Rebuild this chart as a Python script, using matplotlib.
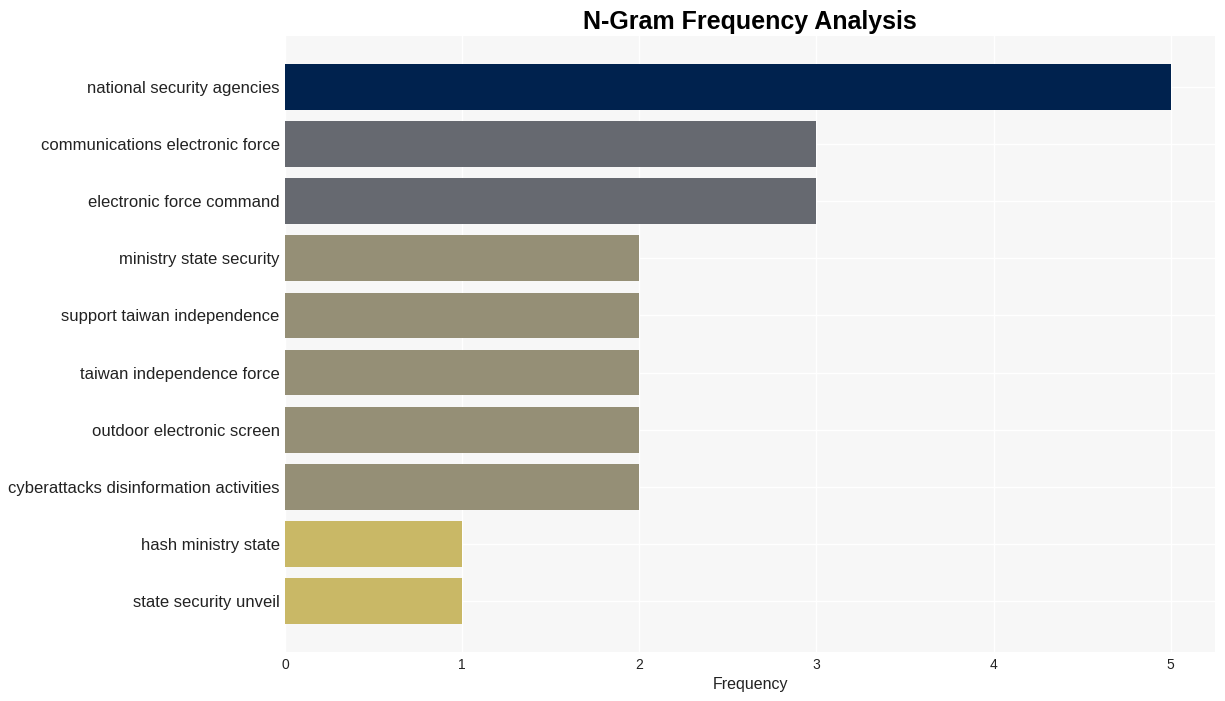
import matplotlib
matplotlib.use('Agg')
import matplotlib.pyplot as plt

plt.rcParams['font.family'] = ['Liberation Sans', 'DejaVu Sans']

ngrams = ['national security agencies', 'communications electronic force',
          'electronic force command', 'ministry state security',
          'support taiwan independence', 'taiwan independence force',
          'outdoor electronic screen', 'cyberattacks disinformation activities',
          'hash ministry state', 'state security unveil']
counts = [5, 3, 3, 2, 2, 2, 2, 2, 1, 1]
colors = ['#00224e', '#666970', '#666970', '#958f76', '#958f76',
          '#958f76', '#958f76', '#958f76', '#c9b866', '#c9b866']

fig = plt.figure(figsize=(12.25, 7.01), dpi=100)
ax = fig.add_axes([0.2327, 0.0699, 0.7591, 0.8787])
ax.set_facecolor('#f7f7f7')

ax.barh(range(len(ngrams)), counts, height=0.8, color=colors, zorder=2)
ax.set_yticks(range(len(ngrams)))
ax.set_yticklabels(ngrams, fontsize=12, color='#222222')
ax.invert_yaxis()
ax.set_xlim(0, 5.25)

ax.grid(True, color='white', linewidth=1, zorder=0)
ax.set_axisbelow(True)
for s in ax.spines.values():
    s.set_visible(False)
ax.tick_params(axis='both', length=0)
ax.tick_params(axis='x', labelsize=10, pad=4, colors='#222222')
ax.tick_params(axis='y', pad=4)

ax.set_xlabel('Frequency', fontsize=11.5, color='#222222', labelpad=4)
ax.set_title('N-Gram Frequency Analysis', fontsize=18, fontweight='bold', pad=5)

fig.savefig('out.png', dpi=100)
